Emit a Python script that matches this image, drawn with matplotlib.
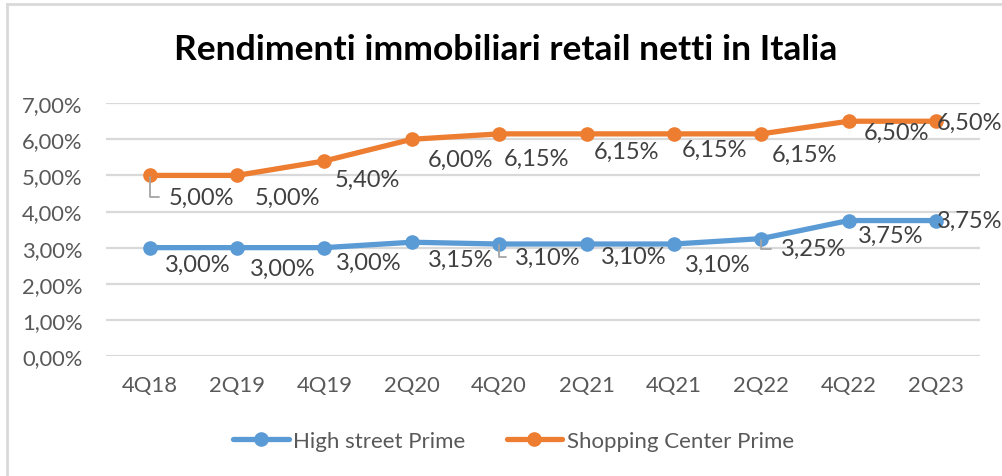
"""
Rendimenti immobiliari retail netti in Italia - line chart.
"""

import numpy as np
import matplotlib
matplotlib.use('Agg')
import matplotlib.pyplot as plt
from matplotlib.lines import Line2D

# Data

quarters = ['4Q18', '2Q19', '4Q19', '2Q20', '4Q20', '2Q21', '4Q21', '2Q22', '4Q22', '2Q23']
high_street = [3.00, 3.00, 3.00, 3.15, 3.10, 3.10, 3.10, 3.25, 3.75, 3.75]
shopping = [5.00, 5.00, 5.40, 6.00, 6.15, 6.15, 6.15, 6.15, 6.50, 6.50]
y_ticks = np.arange(0, 8, 1)

# Label placement (offset in pixels from each point)

hs_offsets = [(48, -17), (46, -21), (44, -15), (49, -17), (49, -13),
              (47, -12), (44, -20), (52, -10), (42, -15), (34, 0)]
hs_leader = [4, 7]
sc_offsets = [(52, -22), (50, -22), (43, -18), (49, -20), (37, -24),
              (40, -17), (41, -15), (43, -20), (48, -11), (34, -1)]
sc_leader = [0]

BLUE = '#5B9BD5'
ORANGE = '#ED7D31'
GRID = '#d9d9d9'
TXT = '#595959'

plt.rcParams['font.family'] = ['Lato', 'DejaVu Sans']


def pct(v):
    return f"{v:.2f}%".replace('.', ',')


fig = plt.figure(figsize=(10.03, 4.77), dpi=100)
ax = fig.add_axes([0.1057, 0.2516, 0.871, 0.530])

x = np.arange(len(quarters))
ax.plot(x, high_street, '-o', color=BLUE, lw=3.8, markersize=9.5,
        solid_capstyle='round', label='High street Prime', zorder=3)
ax.plot(x, shopping, '-o', color=ORANGE, lw=3.8, markersize=9.5,
        solid_capstyle='round', label='Shopping Center Prime', zorder=3)


def add_labels(vals, offsets, leaders):
    for i, v in enumerate(vals):
        dx, dy = offsets[i]
        props = None
        if i in leaders:
            props = dict(arrowstyle='-', color='#a5a5a5', lw=1.3,
                         connectionstyle='angle,angleA=0,angleB=90,rad=0',
                         relpos=(0, 0.5), shrinkA=5, shrinkB=1)
        ax.annotate(pct(v), xy=(i, v), xytext=(dx, dy), textcoords='offset pixels',
                    ha='center', va='center', fontsize=17, color='#404040',
                    arrowprops=props, zorder=4)


add_labels(high_street, hs_offsets, hs_leader)
add_labels(shopping, sc_offsets, sc_leader)

ax.set_xlim(-0.5, len(quarters) - 0.5)
ax.set_ylim(0, 7)
ax.set_yticks(y_ticks)
ax.set_yticklabels([pct(v) for v in y_ticks])
ax.set_xticks(x)
ax.set_xticklabels(quarters)
ax.tick_params(axis='both', length=0, labelsize=15.8, colors=TXT)
ax.tick_params(axis='y', pad=17)
ax.tick_params(axis='x', pad=14)
ax.grid(axis='y', color=GRID, lw=1.6)
ax.set_axisbelow(True)
for s in ax.spines.values():
    s.set_visible(False)

fig.text(0.5045, 0.895, 'Rendimenti immobiliari retail netti in Italia',
         ha='center', va='center', fontsize=25.5, fontweight='bold', color='black')

fig.legend(loc='center', bbox_to_anchor=(0.512, 0.073), ncol=2, frameon=False,
           fontsize=16, handlelength=2.5, handletextpad=0.2, columnspacing=1.85,
           labelcolor=TXT)

# chart frame (left and top edges visible)
fig.add_artist(Line2D([0.007, 0.007], [0, 0.99], transform=fig.transFigure,
                      color=GRID, lw=2))
fig.add_artist(Line2D([0.007, 1.0], [0.99, 0.99], transform=fig.transFigure,
                      color=GRID, lw=2))

plt.savefig('out.png', dpi=100)
plt.close()
